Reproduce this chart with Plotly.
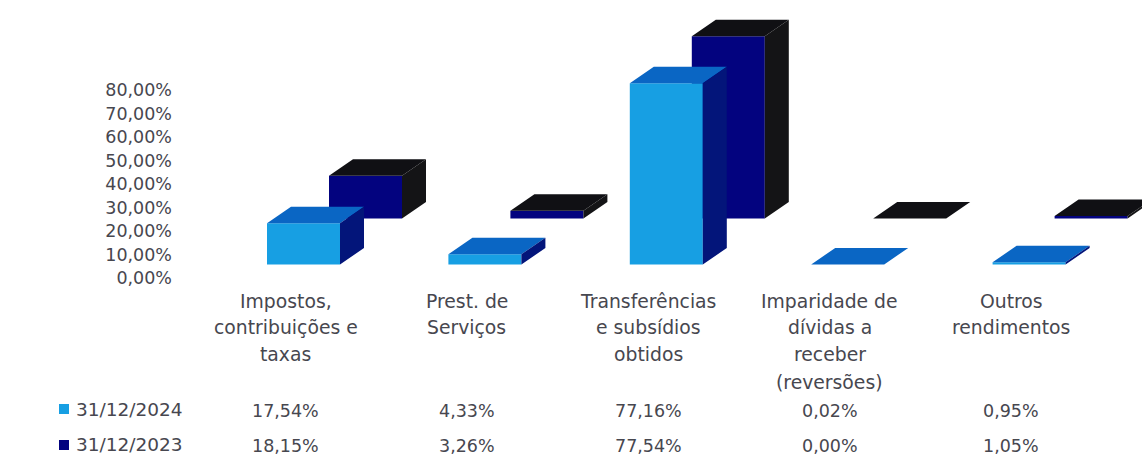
import plotly.graph_objects as go

W, H = 1142, 457
FONT = "DejaVu Sans"
TEXT = "#47474f"

categories = ["Impostos, contribuições e taxas", "Prest. de Serviços",
              "Transferências e subsídios obtidos",
              "Imparidade de dívidas a receber (reversões)", "Outros rendimentos"]
category_lines = [["Impostos,", "contribuições e", "taxas"],
                  ["Prest. de", "Serviços"],
                  ["Transferências", "e subsídios", "obtidos"],
                  ["Imparidade de", "dívidas a", "receber", "(reversões)"],
                  ["Outros", "rendimentos"]]
series_names = ["31/12/2024", "31/12/2023"]
values_2024 = [17.54, 4.33, 77.16, 0.02, 0.95]
values_2023 = [18.15, 3.26, 77.54, 0.00, 1.05]
y_ticks = [0, 10, 20, 30, 40, 50, 60, 70, 80]

# pixel scale of the axes
PX_PER_CAT = 181.4
PX_PER_PCT = 2.35
X0_PX = 285.5   # pixel of category 0
Y0_PX = 264.5   # pixel of value 0

BAR_W = 73 / PX_PER_CAT
BAR_LEFT = -18.5 / PX_PER_CAT
DEPTH_X = 24 / PX_PER_CAT
DEPTH_Y = 16.5 / PX_PER_PCT
BACK_X = 62 / PX_PER_CAT
BACK_Y = 46 / PX_PER_PCT


def faces(values, dx, dy):
    front_x, front_y, top_x, top_y, side_x, side_y = [], [], [], [], [], []
    for i, v in enumerate(values):
        l = i + BAR_LEFT + dx
        r = l + BAR_W
        b = dy
        t = dy + v
        front_x += [l, r, r, l, l, None]
        front_y += [b, b, t, t, b, None]
        top_x += [l, r, r + DEPTH_X, l + DEPTH_X, l, None]
        top_y += [t, t, t + DEPTH_Y, t + DEPTH_Y, t, None]
        side_x += [r, r + DEPTH_X, r + DEPTH_X, r, r, None]
        side_y += [b, b + DEPTH_Y, t + DEPTH_Y, t, b, None]
    return (front_x, front_y), (top_x, top_y), (side_x, side_y)


fig = go.Figure()
styles = [(values_2023, BACK_X, BACK_Y, series_names[1], ("#03037f", "#101014", "#141416")),
          (values_2024, 0, 0, series_names[0], ("#179fe3", "#0a66c4", "#03157a"))]
for values, dx, dy, name, colors in styles:
    for (xs, ys), color, part in zip(faces(values, dx, dy), colors, ("front", "top", "side")):
        fig.add_trace(go.Scatter(x=xs, y=ys, mode="lines", line=dict(width=0, color=color),
                                 fill="toself", fillcolor=color, name=f"{name} {part}",
                                 showlegend=False, hoverinfo="skip"))

# invisible trace that carries the shifted value axis
fig.add_trace(go.Scatter(x=[0, 0], y=[y_ticks[0], y_ticks[-1]], yaxis="y2", mode="markers",
                         marker=dict(opacity=0), showlegend=False, hoverinfo="skip"))


def py(px):
    return 1 - px / H


annotations = []
LINE_Y = [301, 327.5, 354.5, 382]
for i, lines in enumerate(category_lines):
    for line, yp in zip(lines, LINE_Y):
        annotations.append(dict(x=i, xref="x", y=py(yp), yref="paper", text=line, showarrow=False,
                                xanchor="center", yanchor="middle", font=dict(size=18.8, color=TEXT, family=FONT)))
ROW_Y = [411, 446]
for yp, vals in zip(ROW_Y, (values_2024, values_2023)):
    for i, v in enumerate(vals):
        annotations.append(dict(x=i, xref="x", y=py(yp), yref="paper", text=f"{v:.2f}%".replace(".", ","),
                                showarrow=False, xanchor="center", yanchor="middle",
                                font=dict(size=17.5, color=TEXT, family=FONT)))
for yp, name in zip([409, 444], series_names):
    annotations.append(dict(x=76 / W, xref="paper", y=py(yp), yref="paper", text=name, showarrow=False,
                            xanchor="left", yanchor="middle", xshift=-2,
                            font=dict(size=18.5, color=TEXT, family=FONT)))

shapes = [dict(type="rect", xref="paper", yref="paper", x0=59 / W, x1=69 / W, y0=py(414), y1=py(404),
               fillcolor="#179fe3", line=dict(width=0)),
          dict(type="rect", xref="paper", yref="paper", x0=59 / W, x1=69 / W, y0=py(450), y1=py(440),
               fillcolor="#03037f", line=dict(width=0))]

fig.update_layout(
    template="none",
    width=W, height=H, margin=dict(l=0, r=0, t=0, b=0), autosize=False,
    paper_bgcolor="white", plot_bgcolor="rgba(0,0,0,0)", showlegend=False, separators=",.",
    xaxis=dict(range=[-X0_PX / PX_PER_CAT, (W - X0_PX) / PX_PER_CAT], visible=False, domain=[0, 1],
               fixedrange=True, automargin=False),
    yaxis=dict(range=[(Y0_PX - H) / PX_PER_PCT, Y0_PX / PX_PER_PCT], visible=False, domain=[0, 1],
               fixedrange=True, automargin=False),
    yaxis2=dict(domain=[py(278), py(90)], range=[y_ticks[0], y_ticks[-1]], anchor="free", position=172 / W,
                tick0=0, dtick=10, tickformat=".2f", ticksuffix="%", showgrid=False, zeroline=False,
                showline=False, ticks="", automargin=False,
                tickfont=dict(size=17.5, color=TEXT, family=FONT), fixedrange=True),
    annotations=annotations, shapes=shapes,
)
fig.write_html("out.html", config={"displayModeBar": False},
               post_script="document.body.style.margin='0';document.body.style.overflow='hidden';")
